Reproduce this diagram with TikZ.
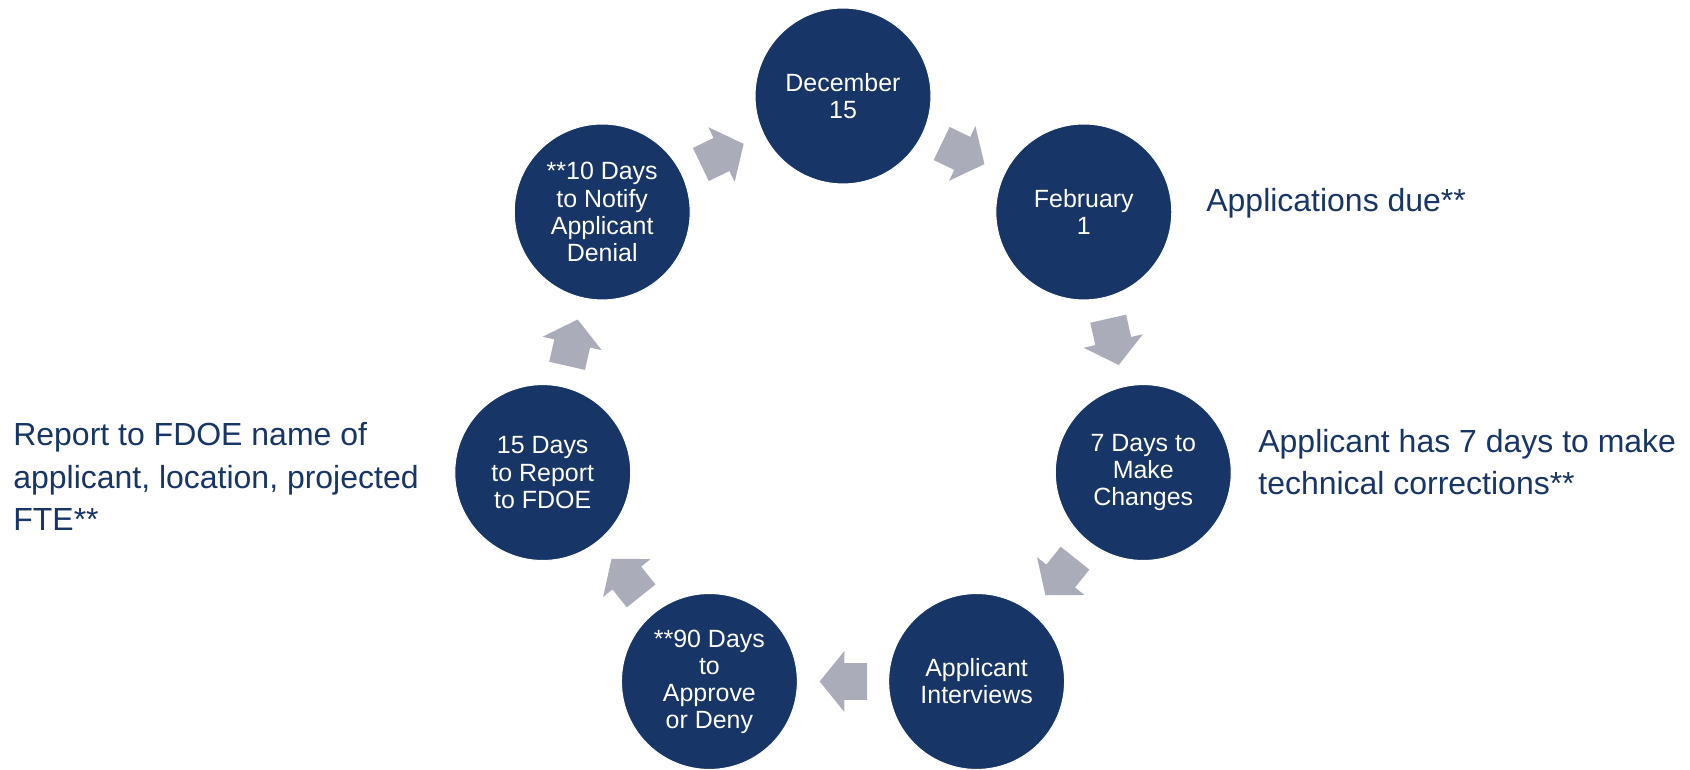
\documentclass[tikz,border=0pt]{standalone}
\usepackage{fontspec}
\setmainfont{Liberation Sans}
\usetikzlibrary{shapes.arrows}
\definecolor{navy}{RGB}{23,53,102}
\definecolor{arrowgray}{RGB}{170,173,185}
\tikzset{
  stepcircle/.style={circle,fill=navy,draw=white,line width=0.6pt,minimum size=3.52cm,inner sep=0pt,
    text=white,align=center,font=\fontsize{14.2pt}{15.4pt}\selectfont},
  blockarrow/.style={single arrow,fill=arrowgray,draw=none,minimum height=0.95cm,minimum width=1.2cm,
    inner xsep=0pt,inner ysep=0.36cm,single arrow head extend=0.24cm,single arrow tip angle=102,
    sloped,allow upside down,pos=.413}
  ,note/.style={text=navy,align=left,inner sep=0pt,font=\fontsize{18.2pt}{24.2pt}\selectfont}
}
\begin{document}
\begin{tikzpicture}[x=0.02cm,y=0.02cm]
\useasboundingbox(0,0)rectangle(1690,770);
\coordinate(c)at(843,366);
\node[stepcircle](dec)at([shift={(90:308)}]c){December\\15};
\node[stepcircle](feb)at([shift={(38.57:308)}]c){February\\1};
\node[stepcircle](chg)at([shift={(-12.86:308)}]c){7 Days to\\Make\\Changes};
\node[stepcircle](intv)at([shift={(-64.29:308)}]c){Applicant\\Interviews};
\node[stepcircle](appr)at([shift={(-115.71:308)}]c){**90 Days\\to\\Approve\\or Deny};
\node[stepcircle](rep)at([shift={(-167.14:308)}]c){15 Days\\to Report\\to FDOE};
\node[stepcircle](deny)at([shift={(141.43:308)}]c){**10 Days\\to Notify\\Applicant\\Denial};
\path(dec)--(feb)node[blockarrow](a1){};
\path(feb)--(chg)node[blockarrow](a2){};
\path(chg)--(intv)node[blockarrow](a3){};
\path(intv)--(appr)node[blockarrow](a4){};
\path(appr)--(rep)node[blockarrow](a5){};
\path(rep)--(deny)node[blockarrow](a6){};
\path(deny)--(dec)node[blockarrow](a7){};
% base anchor sits on the last line
\node[note,anchor=base west](due)at(1206,558){Applications due**};
\node[note,anchor=base west](fix)at(1258,275){Applicant has 7 days to make\\technical corrections**};
\node[note,anchor=base west](fdoe)at(13,239){Report to FDOE name of\\applicant, location, projected\\FTE**};
\end{tikzpicture}
\end{document}
